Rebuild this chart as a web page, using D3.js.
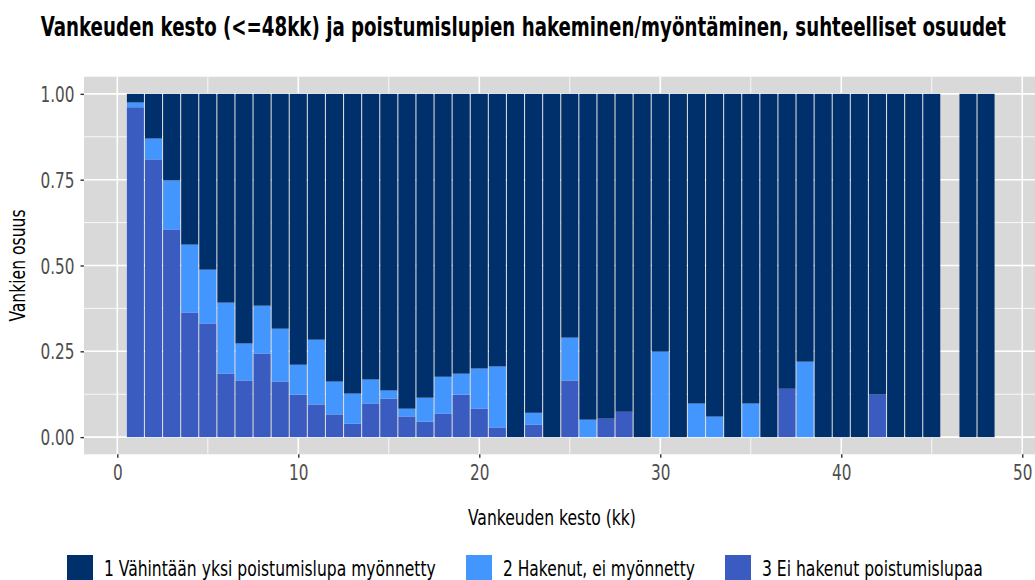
<!DOCTYPE html>
<html>
<head>
<meta charset="utf-8">
<script src="https://cdn.jsdelivr.net/npm/d3@7"></script>
<style>
  html, body { margin: 0; padding: 0; background: #ffffff; }
  svg { display: block; }
  text { font-family: "Liberation Sans Narrow", "DejaVu Sans Condensed", "Arial Narrow", sans-serif; }
</style>
</head>
<body>
<svg id="chart" width="1035" height="580"></svg>
<script>
// ---- data ----
const months = [1,2,3,4,5,6,7,8,9,10,11,12,13,14,15,16,17,18,19,20,21,22,23,24,25,26,27,28,29,30,31,32,33,34,35,36,37,38,39,40,41,42,43,44,45,47,48];
// 3 Ei hakenut poistumislupaa (bottom)
const notApplied = [0.961,0.809,0.605,0.363,0.331,0.185,0.165,0.243,0.162,0.124,0.095,0.066,0.039,0.098,0.112,0.060,0.045,0.068,0.124,0.083,0.028,0,0.036,0,0.165,0,0.054,0.074,0,0,0,0,0,0,0,0,0.141,0,0,0,0,0.124,0,0,0,0,0];
// 2 Hakenut, ei myönnetty (middle)
const appliedDenied = [0.014,0.061,0.143,0.198,0.157,0.207,0.108,0.140,0.154,0.087,0.189,0.096,0.088,0.070,0.024,0.023,0.070,0.108,0.061,0.117,0.178,0,0.035,0,0.125,0.051,0,0,0,0.249,0,0.098,0.060,0,0.098,0,0,0.220,0,0,0,0,0,0,0,0,0];
// 1 Vähintään yksi poistumislupa myönnetty (top)
const granted = [0.025,0.130,0.252,0.439,0.512,0.608,0.727,0.617,0.684,0.789,0.716,0.838,0.873,0.832,0.864,0.917,0.885,0.824,0.815,0.800,0.794,1,0.929,1,0.710,0.949,0.946,0.926,1,0.751,1,0.902,0.940,1,0.902,1,0.859,0.780,1,1,1,0.876,1,1,1,1,1];

const seriesLabels = ["1 Vähintään yksi poistumislupa myönnetty", "2 Hakenut, ei myönnetty", "3 Ei hakenut poistumislupaa"];
const seriesColors = ["#00306B", "#4496FF", "#3A5BC0"];
const xTicks = [0, 10, 20, 30, 40, 50];
const xMinor = [5, 15, 25, 35, 45];
const yTicks = [0, 0.25, 0.5, 0.75, 1];
const yMinor = [0.125, 0.375, 0.625, 0.875];
const titleText = "Vankeuden kesto (<=48kk) ja poistumislupien hakeminen/myöntäminen, suhteelliset osuudet";
const xTitle = "Vankeuden kesto (kk)";
const yTitle = "Vankien osuus";

// ---- layout ----
const svg = d3.select("#chart");
const panel = { left: 84, right: 1040, top: 76.7, bottom: 454.3 };

const x = d3.scaleLinear().domain([-1.84, 50.98]).range([panel.left, panel.right]);
const y = d3.scaleLinear().domain([-0.05, 1.05]).range([panel.bottom, panel.top]);

const rows = months.map((m, i) => ({ month: m, s3: notApplied[i], s2: appliedDenied[i], s1: granted[i] }));
const keys = ["s3", "s2", "s1"];
const colorOf = { s1: seriesColors[0], s2: seriesColors[1], s3: seriesColors[2] };
const stacked = d3.stack().keys(keys)(rows);

// text placed at (tx,ty), horizontally scaled so its width equals w
function fittedText(parent, tx, ty, str, size, w, opts = {}) {
  const g = parent.append("g");
  const t = g.append("text").attr("x", 0).attr("y", 0)
    .style("font-size", size + "px")
    .style("font-weight", opts.bold ? "bold" : "normal")
    .attr("fill", opts.fill || "#000")
    .attr("text-anchor", opts.anchor || "start")
    .text(str);
  const cur = t.node().getComputedTextLength();
  const s = cur > 0 ? w / cur : 1;
  g.attr("transform", `translate(${tx},${ty})${opts.rotate ? " rotate(" + opts.rotate + ")" : ""} scale(${s},1)`);
  return g;
}

// panel background
svg.append("rect")
  .attr("x", panel.left).attr("y", panel.top)
  .attr("width", panel.right - panel.left).attr("height", panel.bottom - panel.top)
  .attr("fill", "#D9D9D9");

const grid = svg.append("g");
grid.selectAll("line.ymin").data(yMinor).join("line")
  .attr("x1", panel.left).attr("x2", panel.right)
  .attr("y1", d => y(d)).attr("y2", d => y(d))
  .attr("stroke", "#fff").attr("stroke-width", 0.8);
grid.selectAll("line.xmin").data(xMinor).join("line")
  .attr("y1", panel.top).attr("y2", panel.bottom)
  .attr("x1", d => x(d)).attr("x2", d => x(d))
  .attr("stroke", "#fff").attr("stroke-width", 0.8);
grid.selectAll("line.ymaj").data(yTicks).join("line")
  .attr("x1", panel.left).attr("x2", panel.right)
  .attr("y1", d => y(d)).attr("y2", d => y(d))
  .attr("stroke", "#fff").attr("stroke-width", 1.6);
grid.selectAll("line.xmaj").data(xTicks).join("line")
  .attr("y1", panel.top).attr("y2", panel.bottom)
  .attr("x1", d => x(d)).attr("x2", d => x(d))
  .attr("stroke", "#fff").attr("stroke-width", 1.6);

// bars
const barW = (x(1) - x(0)) * 0.94;
svg.append("g").selectAll("g").data(stacked).join("g")
  .attr("fill", d => colorOf[d.key])
  .selectAll("rect").data(d => d).join("rect")
  .attr("x", d => x(d.data.month) - barW / 2)
  .attr("width", barW)
  .attr("y", d => y(d[1]))
  .attr("height", d => Math.max(0, y(d[0]) - y(d[1])));

// axes
const xAxis = svg.append("g").attr("transform", `translate(0,${panel.bottom})`)
  .call(d3.axisBottom(x).tickValues(xTicks).tickFormat(d3.format("d")).tickSize(3.5).tickPadding(7));
const yAxis = svg.append("g").attr("transform", `translate(${panel.left},0)`)
  .call(d3.axisLeft(y).tickValues(yTicks).tickFormat(d3.format(".2f")).tickSize(3.5).tickPadding(6));
[xAxis, yAxis].forEach(a => {
  a.select(".domain").remove();
  a.selectAll(".tick line").attr("stroke", "#333333").attr("stroke-width", 1.4);
  a.selectAll(".tick text").attr("fill", "#4D4D4D").style("font-size", "21px");
});
yAxis.selectAll(".tick text").attr("dy", "0.36em");
// condense tick labels to the reference's narrow width ("1.00" is ~34px wide)
const refLen = yAxis.select(".tick text").node().getComputedTextLength();
const sx = refLen > 0 ? 34 / refLen : 1;
yAxis.selectAll(".tick text").each(function () {
  const t = d3.select(this);
  const tx = +t.attr("x");
  t.attr("transform", `translate(${tx},0) scale(${sx},1) translate(${-tx},0)`);
});
xAxis.selectAll(".tick text").attr("transform", `scale(${sx},1)`);

// title
fittedText(svg, 40.7, 36, titleText, 26, 966, { bold: true });

// axis titles
fittedText(svg, 552, 525, xTitle, 22, 168, { anchor: "middle" });
fittedText(svg, 25, (panel.top + panel.bottom) / 2, yTitle, 22, 112, { anchor: "middle", rotate: -90 });

// legend
const legendWidths = [332, 192, 221];
let lx = 67;
const leg = svg.append("g");
seriesLabels.forEach((lab, i) => {
  leg.append("rect").attr("x", lx).attr("y", 555).attr("width", 26).attr("height", 25)
    .attr("fill", seriesColors[i]);
  fittedText(leg, lx + 37, 575.5, lab, 21.5, legendWidths[i]);
  lx += 37 + legendWidths[i] + 30;
});
</script>
</body>
</html>
